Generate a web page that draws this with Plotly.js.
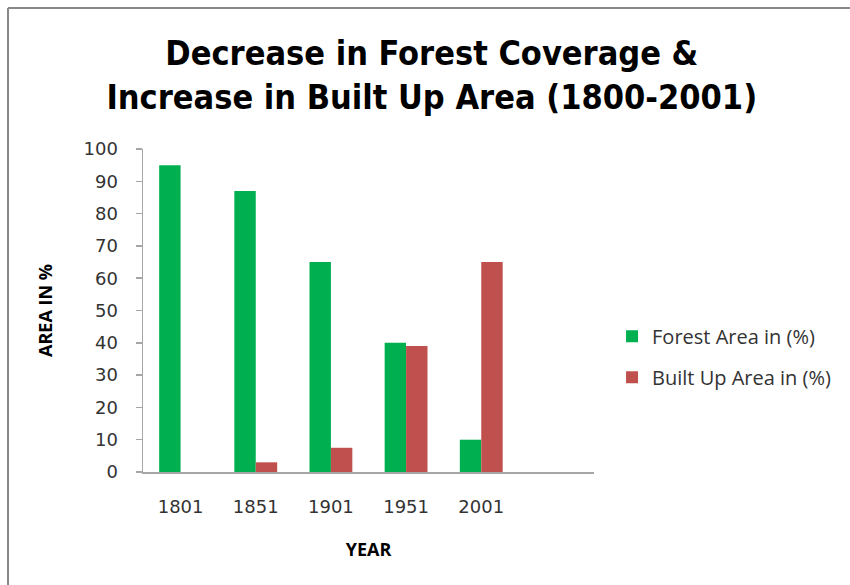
<!DOCTYPE html>
<html>
<head>
<meta charset="utf-8">
<script src="https://cdn.plot.ly/plotly-3.0.1.min.js"></script>
<style>html,body{margin:0;padding:0;background:#fff;}#chart{width:850px;height:585px;}</style>
</head>
<body>
<div id="chart"></div>
<script>
const years = ['1801', '1851', '1901', '1951', '2001'];
const forestArea = [95, 87, 65, 40, 10];
const builtUpArea = [0, 3, 7.5, 39, 65];
const seriesNames = ['Forest Area in (%)', 'Built Up Area in (%)'];
const yTicks = [0, 10, 20, 30, 40, 50, 60, 70, 80, 90, 100];

const traces = [
  {type: 'bar', name: seriesNames[0], x: years, y: forestArea,
   marker: {color: '#00B050'}, legendgroup: 'a'},
  {type: 'bar', name: seriesNames[1], x: years, y: builtUpArea,
   marker: {color: '#C0504D'}, legendgroup: 'b'}
];

const layout = {
  width: 850, height: 585,
  margin: {l: 143, r: 256, t: 149, b: 113},
  paper_bgcolor: '#ffffff', plot_bgcolor: '#ffffff',
  barmode: 'group', bargap: 0.43, bargroupgap: 0,
  title: {
    text: 'Decrease in Forest Coverage &<br>Increase in Built Up Area (1800-2001)',
    font: {family: '"DejaVu Sans Condensed", "Liberation Sans Narrow", sans-serif', size: 34, color: '#000000', weight: 'bold'},
    x: 0.508, xref: 'container', xanchor: 'center',
    y: 1 - 65 / 585, yref: 'container', yanchor: 'middle'
  },
  xaxis: {
    type: 'category', range: [-0.5, 5.5],
    showline: true, linecolor: '#A6A6A6', linewidth: 1.5,
    ticks: '', showgrid: false, zeroline: false,
    ticklabelstandoff: 18,
    tickfont: {family: 'DejaVu Sans', size: 18, color: '#333333'},
    title: {text: 'YEAR', standoff: 27,
      font: {family: 'Open Sans', size: 18, color: '#000000', weight: 'bold'}}
  },
  yaxis: {
    range: [0, 100], tickvals: yTicks,
    showline: true, linecolor: '#A6A6A6', linewidth: 1.5,
    ticks: 'outside', ticklen: 6, tickcolor: '#A6A6A6', tickwidth: 1.5,
    showgrid: false, zeroline: false,
    ticklabelstandoff: 14,
    tickfont: {family: 'DejaVu Sans', size: 18, color: '#333333'},
    title: {text: 'AREA IN %', standoff: 26,
      font: {family: 'Open Sans', size: 18, color: '#000000', weight: 'bold'}}
  },
  legend: {
    x: 1.04, xanchor: 'left', y: 0.357, yanchor: 'middle',
    font: {family: 'Open Sans', size: 20, color: '#333333'},
    tracegroupgap: 12, traceorder: 'grouped',
    bgcolor: 'rgba(0,0,0,0)'
  },
  shapes: [
    {type: 'line', xref: 'paper', yref: 'paper', x0: -0.2993, x1: -0.2993, y0: -0.5, y1: 1.4365,
     line: {color: '#888888', width: 2}},
    {type: 'line', xref: 'paper', yref: 'paper', x0: -0.2993, x1: 1.7, y0: 1.4365, y1: 1.4365,
     line: {color: '#888888', width: 2}}
  ],
  showlegend: true
};

Plotly.newPlot('chart', traces, layout, {displayModeBar: false, staticPlot: true});
</script>
</body>
</html>
